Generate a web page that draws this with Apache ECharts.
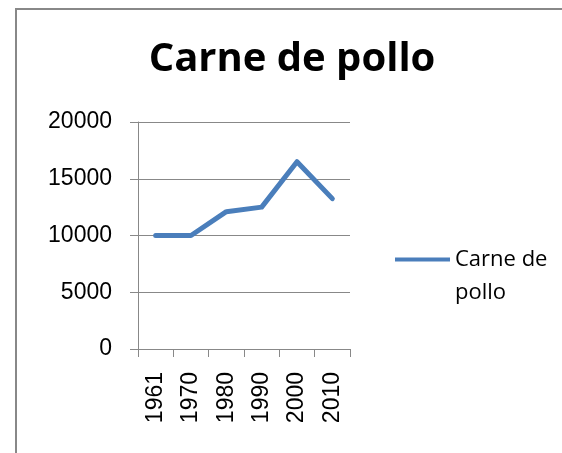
<!DOCTYPE html>
<html>
<head>
<meta charset="utf-8">
<script src="https://cdn.jsdelivr.net/npm/echarts@6/dist/echarts.min.js"></script>
<style>
  html, body { margin: 0; padding: 0; background: #fff; }
  #main { width: 562px; height: 453px; }
</style>
</head>
<body>
<div id="main"></div>
<script>
// datos
var years = ['1961', '1970', '1980', '1990', '2000', '2010'];
var pollo = [10000, 10000, 12100, 12500, 16500, 13250];
var yTicks = [0, 5000, 10000, 15000, 20000];

var myChart = echarts.init(document.getElementById('main'), null, { renderer: 'canvas' });

var option = {
    backgroundColor: '#fff',
    animation: false,
    title: {
        text: 'Carne de pollo',
        left: 287,
        textAlign: 'center',
        top: 35,
        textStyle: {
            fontFamily: 'Open Sans',
            fontWeight: 'bold',
            fontSize: 40,
            color: '#000'
        }
    },
    graphic: [{
        type: 'rect',
        shape: { x: 16, y: 9, width: 600, height: 500 },
        style: { fill: 'none', stroke: '#888', lineWidth: 2 },
        silent: true
    }],
    legend: {
        left: 390,
        top: 205,
        orient: 'vertical',
        icon: 'rect',
        itemWidth: 55,
        itemHeight: 4,
        itemGap: 4,
        // linea vacia arriba para que el icono quede a la altura de la primera linea
        formatter: function () { return '\u00a0\nCarne de\npollo'; },
        textStyle: {
            fontFamily: 'Open Sans',
            fontSize: 22,
            color: '#000',
            lineHeight: 33
        },
        data: ['Carne de pollo']
    },
    grid: {
        left: 138,
        right: 212,
        top: 122,
        bottom: 104
    },
    xAxis: {
        type: 'category',
        data: years,
        boundaryGap: true,
        axisLine: { lineStyle: { color: '#888', width: 1 } },
        axisTick: { show: true, length: 8, lineStyle: { color: '#888' } },
        axisLabel: {
            rotate: 90,
            margin: 23,
            color: '#000',
            fontFamily: 'Liberation Sans',
            fontSize: 23
        }
    },
    yAxis: {
        type: 'value',
        min: yTicks[0],
        max: yTicks[yTicks.length - 1],
        interval: 5000,
        axisLine: { show: true, lineStyle: { color: '#888', width: 1 } },
        axisTick: { show: true, length: 8, lineStyle: { color: '#888' } },
        splitLine: { lineStyle: { color: '#888', width: 1 } },
        axisLabel: {
            margin: 26,
            color: '#000',
            fontFamily: 'Liberation Sans',
            fontSize: 23,
            formatter: function (v) { return String(v); }
        }
    },
    series: [{
        name: 'Carne de pollo',
        type: 'line',
        data: pollo,
        symbol: 'none',
        color: '#4a7ebb',
        lineStyle: { width: 5, color: '#4a7ebb', cap: 'round', join: 'round' }
    }]
};

myChart.setOption(option);
</script>
</body>
</html>
